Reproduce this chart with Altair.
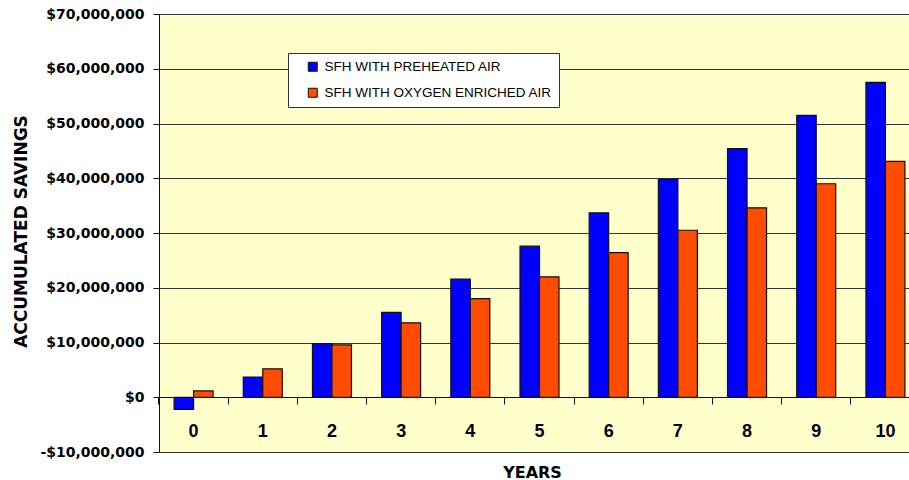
import altair as alt
import pandas as pd

# Accumulated savings per year, in millions of dollars
years = ["0", "1", "2", "3", "4", "5", "6", "7", "8", "9", "10"]
preheated_musd = [-2.2, 3.7, 9.8, 15.5, 21.6, 27.6, 33.7, 39.8, 45.4, 51.5, 57.5]
oxygen_musd = [1.15, 5.2, 9.55, 13.6, 18.0, 22.0, 26.4, 30.5, 34.6, 39.0, 43.1]

series_names = ["SFH WITH PREHEATED AIR", "SFH WITH OXYGEN ENRICHED AIR"]
series_colors = ["#0000FF", "#FF4C00"]
y_ticks = [-10_000_000, 0, 10_000_000, 20_000_000, 30_000_000,
           40_000_000, 50_000_000, 60_000_000, 70_000_000]

rows = []
for i, yr in enumerate(years):
    rows.append({"year": yr, "series": series_names[0], "savings": preheated_musd[i] * 1e6})
    rows.append({"year": yr, "series": series_names[1], "savings": oxygen_musd[i] * 1e6})
df = pd.DataFrame(rows)

money_label = ("datum.value < 0 ? '-$' + format(-datum.value, ',') "
               ": '$' + format(datum.value, ',')")

x_scale = alt.Scale(domain=years, range=[0, 761],
                    paddingInner=0.4364, paddingOuter=0.218)
y_scale = alt.Scale(domain=[-10_000_000, 70_000_000], nice=False, zero=False)
offset_enc = alt.XOffset(
    "series:N", sort=series_names,
    scale=alt.Scale(domain=series_names, paddingInner=0, paddingOuter=0),
)

base = alt.Chart(df)

# Grouped bars with the category labels on an axis drawn through zero
bars = base.mark_bar(stroke="#111111", strokeWidth=1.2).encode(
    x=alt.X(
        "year:N", sort=years, scale=x_scale,
        axis=alt.Axis(
            orient="bottom", title="YEARS", offset=-55, ticks=False,
            domainColor="#111111", labelAngle=0,
            labelFont="Liberation Sans", labelFontWeight="bold",
            labelFontSize=18, labelPadding=25, labelColor="#000000",
            titleFont="DejaVu Sans", titleFontWeight="bold", titleFontSize=16,
            titleColor="#000000", titleX=373, titleY=80,
            titleBaseline="alphabetic", titleAlign="center", grid=False,
        ),
    ),
    xOffset=offset_enc,
    y=alt.Y(
        "savings:Q", scale=y_scale,
        axis=alt.Axis(
            title="ACCUMULATED SAVINGS", values=y_ticks, labelExpr=money_label,
            tickSize=6, tickColor="#111111", domainColor="#111111",
            labelFont="DejaVu Sans", labelFontWeight="bold", labelFontSize=14,
            labelPadding=9, labelColor="#000000",
            grid=True, gridColor="#333333", gridWidth=1,
            titleFont="DejaVu Sans", titleFontWeight="bold", titleFontSize=17,
            titleColor="#000000", titleAngle=270, titleX=-133, titleY=217,
            titleBaseline="alphabetic", titleAlign="center",
        ),
    ),
    color=alt.Color(
        "series:N", sort=series_names,
        scale=alt.Scale(domain=series_names, range=series_colors),
        legend=alt.Legend(
            title=None, orient="none", legendX=129, legendY=39,
            fillColor="#FFFFFF", strokeColor="#333333", padding=7,
            symbolType="square", symbolSize=81, symbolOffset=11,
            symbolStrokeColor="#111111", symbolStrokeWidth=1,
            labelFont="Liberation Sans", labelFontSize=13.5, labelOffset=5,
            labelLimit=400, labelColor="#000000", rowPadding=11,
        ),
    ),
)

# Second axis on the same scale: tick marks at the boundaries between years
boundary_ticks = base.mark_bar(opacity=0).encode(
    x=alt.X(
        "year:N", sort=years, scale=x_scale,
        axis=alt.Axis(
            orient="bottom", title=None, labels=False, domain=False, grid=False,
            ticks=True, tickSize=7, tickWidth=1, tickColor="#111111",
            offset=-55, bandPosition=-0.387,
        ),
    ),
    xOffset=offset_enc,
)

chart = alt.layer(bars, boundary_ticks).resolve_axis(
    x="independent",
).properties(
    width=750,
    height=438,
    background="#FFFFFF",
    autosize=alt.AutoSizeParams(type="none"),
    padding={"left": 159, "top": 14, "right": 0, "bottom": 28},
).configure_view(
    fill="#FFFFCC",
    stroke=None,
)

chart.save("out.html", embed_options={"renderer": "svg", "actions": False})
